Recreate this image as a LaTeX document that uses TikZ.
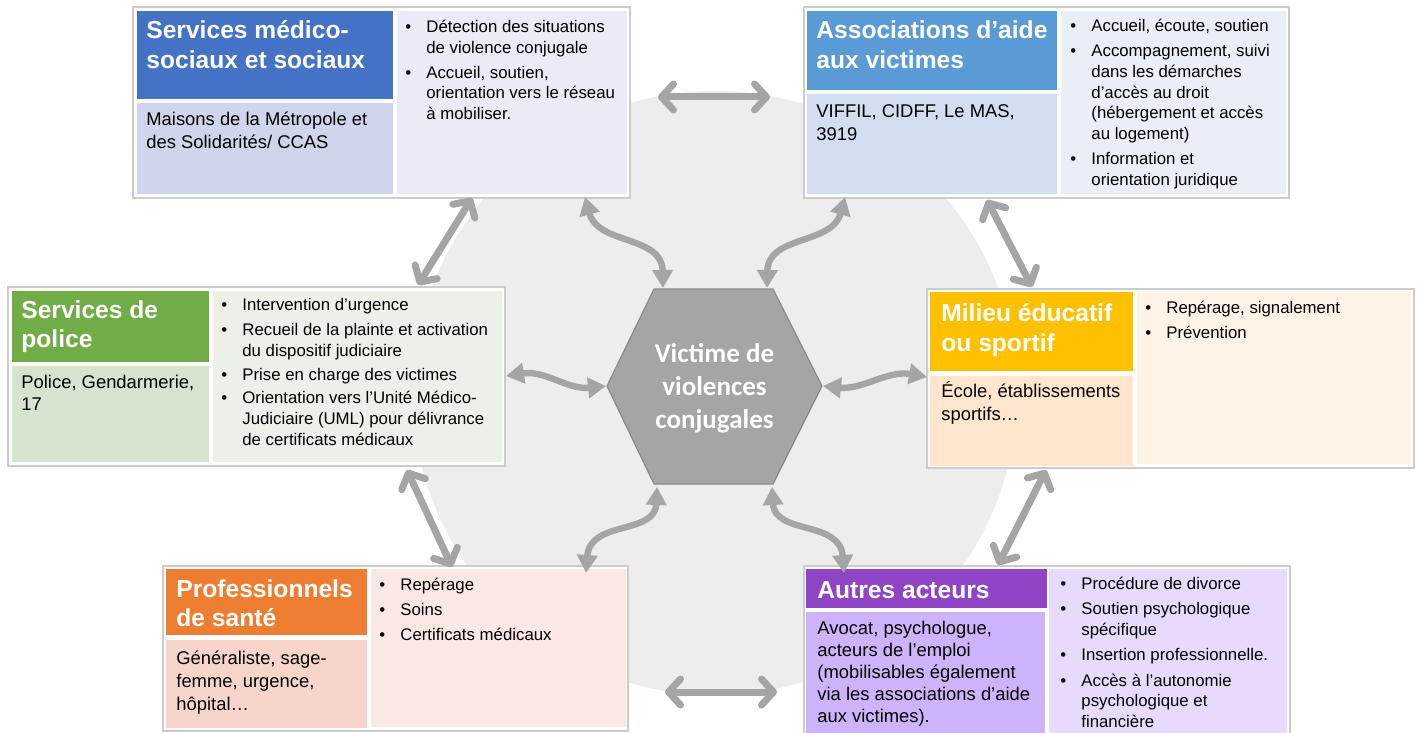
\documentclass[tikz,border=0pt]{standalone}
\usepackage{fontspec}
\setmainfont{Liberation Sans}
\newfontfamily\hexfont{Carlito}
\usetikzlibrary{arrows.meta}
\definecolor{bgc}{HTML}{EDEDED}
\definecolor{framec}{HTML}{CCCCCC}
\definecolor{arrc}{HTML}{A5A5A5}
\definecolor{hexfill}{HTML}{A5A5A5}
\definecolor{hexdraw}{HTML}{8A8A8A}
\definecolor{tA}{HTML}{4472C4}\definecolor{sA}{HTML}{CFD5EA}\definecolor{rA}{HTML}{E9EBF5}
\definecolor{tB}{HTML}{5B9BD5}\definecolor{sB}{HTML}{D2DEEF}\definecolor{rB}{HTML}{EAEFF7}
\definecolor{tC}{HTML}{70AD47}\definecolor{sC}{HTML}{D5E3CF}\definecolor{rC}{HTML}{EBF1E9}
\definecolor{tD}{HTML}{FFC000}\definecolor{sD}{HTML}{FFE6CD}\definecolor{rD}{HTML}{FFF3E7}
\definecolor{tE}{HTML}{ED7D31}\definecolor{sE}{HTML}{F7D5CA}\definecolor{rE}{HTML}{FBE8E5}
\definecolor{tF}{HTML}{8E44C4}\definecolor{sF}{HTML}{CDB3F9}\definecolor{rF}{HTML}{E8DAFD}
\newcommand\bpt{\makebox[10.5pt][l]{\textbullet}}
\newcommand\bcont{\hspace*{10.5pt}}
\begin{document}
\begin{tikzpicture}[x=0.5pt,y=-0.5pt,
  frame/.style={draw=framec,line width=0.6pt,fill=white},
  ttl/.style={anchor=north west,inner sep=0pt,align=left,text=white,
    font=\fontsize{12.3}{14.6}\selectfont\bfseries,execute at begin node={\rule{0pt}{1em}}},
  sub/.style={anchor=north west,inner sep=0pt,align=left,text=black,
    font=\fontsize{9.2}{11.3}\selectfont,execute at begin node={\rule{0pt}{1em}}},
  bul/.style={anchor=north west,inner sep=0pt,align=left,text=black,
    font=\fontsize{8.4}{10.3}\selectfont,execute at begin node={\rule{0pt}{1em}}},
  sarrow/.style={draw=arrc,line width=3.5pt,line cap=round,
    arrows={Straight Barb[length=6pt,width=13pt,round]-Straight Barb[length=6pt,width=13pt,round]}},
  carrow/.style={draw=arrc,line width=3.2pt,
    arrows={Triangle[length=9pt,width=10pt]-Triangle[length=9pt,width=10pt]}}]
\useasboundingbox (0,0) rectangle (1418,733);
\fill[white] (0,0) rectangle (1418,733);
% background disc
\fill[bgc] (715,393) circle (302);

% ---------- Box A: Services medico-sociaux
\draw[frame] (133,7) rectangle (630,198);
\fill[tA] (137,11) rectangle (393,99);
\fill[sA] (137,103) rectangle (393,194);
\fill[rA] (397,11) rectangle (627,194);
\node[ttl] (tA) at (146,20.4) {Services médico-\\sociaux et sociaux};
\node[sub] (sA) at (146,111.6) {Maisons de la Métropole et\\des Solidarités/ CCAS};
\node[bul] (rA) at (405,19.9) {\bpt Détection des situations\\ \bcont de violence conjugale\\[2.2pt]
  \bpt Accueil, soutien,\\ \bcont orientation vers le réseau\\ \bcont à mobiliser.};

% ---------- Box B: Associations
\draw[frame] (804,7) rectangle (1289,198);
\fill[tB] (807,11) rectangle (1057,90);
\fill[sB] (807,94) rectangle (1057,194);
\fill[rB] (1061,11) rectangle (1286,194);
\node[ttl] (tB) at (816,20.7) {Associations d’aide\\aux victimes};
\node[sub] (sB) at (816,104.3) {VIFFIL, CIDFF, Le MAS,\\3919};
\node[bul] (rB) at (1070,18.9) {\bpt Accueil, écoute, soutien\\[2.3pt]
  \bpt Accompagnement, suivi\\ \bcont dans les démarches\\ \bcont d’accès au droit\\ \bcont (hébergement et accès\\ \bcont au logement)\\[2.3pt]
  \bpt Information et\\ \bcont orientation juridique};

% ---------- Box C: Police
\draw[frame] (8,287) rectangle (505,466);
\fill[tC] (12,291) rectangle (209,362);
\fill[sC] (12,366) rectangle (209,462);
\fill[rC] (213,291) rectangle (502,462);
\node[ttl] (tC) at (21,300.1) {Services de\\police};
\node[sub] (sC) at (21,374.6) {Police, Gendarmerie,\\17};
\node[bul,font=\fontsize{8.4}{10.4}\selectfont] (rC) at (221,297.5) {\bpt Intervention d’urgence\\[2.2pt]
  \bpt Recueil de la plainte et activation\\ \bcont du dispositif judiciaire\\[1.6pt]
  \bpt Prise en charge des victimes\\[1.4pt]
  \bpt Orientation vers l’Unité Médico-\\ \bcont Judiciaire (UML) pour délivrance\\ \bcont de certificats médicaux};

% ---------- Box D: Milieu educatif
\draw[frame] (927,289) rectangle (1414,468);
\fill[tD] (930,292) rectangle (1133,371);
\fill[sD] (930,376) rectangle (1133,466);
\fill[rD] (1137,292) rectangle (1411,464);
\node[ttl] (tD) at (941,303.4) {Milieu éducatif\\ou sportif};
\node[sub] (sD) at (941,381.3) {École, établissements\\sportifs…};
\node[bul] (rD) at (1145,300.5) {\bpt Repérage, signalement\\[2.2pt]
  \bpt Prévention};

% ---------- Box E: Sante
\draw[frame] (163,566) rectangle (628,731);
\fill[tE] (166,569) rectangle (367,635);
\fill[sE] (166,640) rectangle (367,728);
\fill[rE] (371,569) rectangle (626,727);
\node[ttl] (tE) at (176,579.1) {Professionnels\\de santé};
\node[sub,font=\fontsize{9.2}{11.5}\selectfont] (sE) at (176,650.3) {Généraliste, sage-\\femme, urgence,\\hôpital…};
\node[bul] (rE) at (379,577.5) {\bpt Repérage\\[2.2pt]
  \bpt Soins\\[2.2pt]
  \bpt Certificats médicaux};

% ---------- Box F: Autres acteurs
\draw[frame] (804,566) rectangle (1290,736);
\fill[tF] (806,569) rectangle (1047,608);
\fill[sF] (806,612) rectangle (1045,736);
\fill[rF] (1049,569) rectangle (1287,736);
\node[ttl] (tF) at (817,573.4) {Autres acteurs};
\node[sub,font=\fontsize{9.2}{11}\selectfont] (sF) at (817,620.3) {Avocat, psychologue,\\acteurs de l’emploi\\(mobilisables également\\via les associations d’aide\\aux victimes).};
\node[bul] (rF) at (1060,576.5) {\bpt Procédure de divorce\\[2.4pt]
  \bpt Soutien psychologique\\ \bcont spécifique\\[2.4pt]
  \bpt Insertion professionnelle.\\[2.4pt]
  \bpt Accès à l’autonomie\\ \bcont psychologique et\\ \bcont financière};

% ---------- central hexagon
\filldraw[fill=hexfill,draw=hexdraw,line width=0.6pt]
  (607,386) -- (654,289) -- (773,289) -- (822,386) -- (773,484) -- (654,484) -- cycle;
\node[align=center,text=white,font=\hexfont\bfseries\fontsize{13.5}{16.5}\selectfont] (hex) at (714.5,388)
  {Victime de\\violences\\conjugales};

% ---------- connector end points
\coordinate (p1a) at (658,97);  \coordinate (p1b) at (770,97);
\coordinate (p2a) at (665,692); \coordinate (p2b) at (777,692);
\coordinate (p3a) at (472,198); \coordinate (p3b) at (418,285);
\coordinate (p4a) at (407,470); \coordinate (p4b) at (452,567);
\coordinate (p5a) at (987,200); \coordinate (p5b) at (1032,287);
\coordinate (p6a) at (1046,470); \coordinate (p6b) at (998,565);
\coordinate (c1a) at (585,197); \coordinate (c1b) at (663,288);
\coordinate (c2a) at (845,197); \coordinate (c2b) at (767,288);
\coordinate (c3a) at (506,376); \coordinate (c3b) at (606,386);
\coordinate (c4a) at (927,377); \coordinate (c4b) at (823,386);
\coordinate (c5a) at (657,487); \coordinate (c5b) at (586,573);
\coordinate (c6a) at (772,487); \coordinate (c6b) at (844,573);

% straight double arrows
\draw[sarrow] (p1a) -- (p1b);
\draw[sarrow] (p2a) -- (p2b);
\draw[sarrow] (p3a) -- (p3b);
\draw[sarrow] (p4a) -- (p4b);
\draw[sarrow] (p5a) -- (p5b);
\draw[sarrow] (p6a) -- (p6b);
% curved double arrows
\draw[carrow] (c1a) .. controls (598,245) and (662,235) .. (c1b);
\draw[carrow] (c2a) .. controls (832,245) and (768,235) .. (c2b);
\draw[carrow] (c3a) .. controls (545,370) and (568,390) .. (c3b);
\draw[carrow] (c4a) .. controls (888,370) and (862,390) .. (c4b);
\draw[carrow] (c5a) .. controls (655,535) and (590,520) .. (c5b);
\draw[carrow] (c6a) .. controls (775,535) and (840,520) .. (c6b);
\end{tikzpicture}
\end{document}
